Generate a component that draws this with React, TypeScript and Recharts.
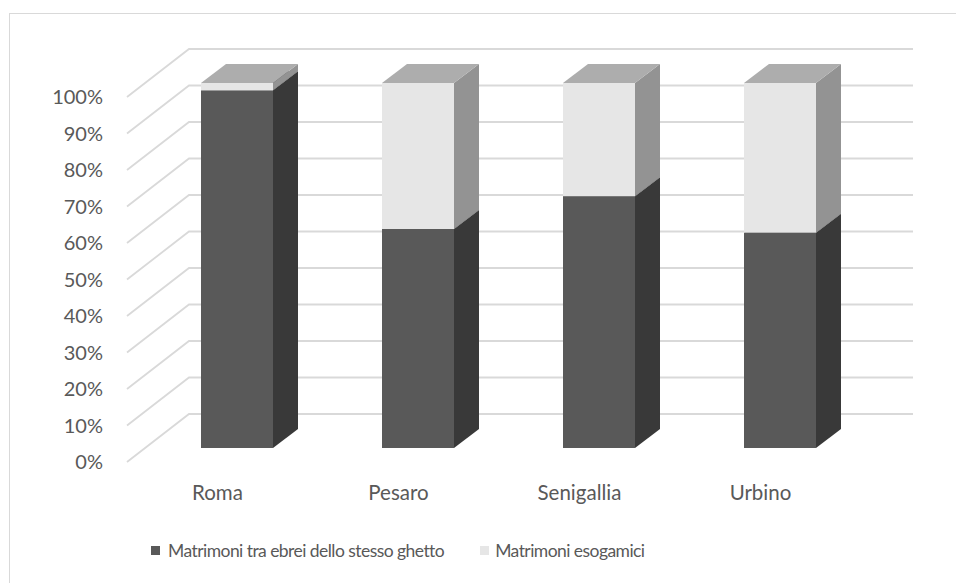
import React from "react";
import { BarChart, Bar, XAxis, YAxis, CartesianGrid, Legend } from "recharts";

const cities = ["Roma", "Pesaro", "Senigallia", "Urbino"];
const sameGhetto = [98, 60, 69, 59];
const exogamous = [2, 40, 31, 41];
const yTicks = [0, 10, 20, 30, 40, 50, 60, 70, 80, 90, 100];
const seriesNames = ["Matrimoni tra ebrei dello stesso ghetto", "Matrimoni esogamici"];

const data = cities.map((city, i) => ({ city, same: sameGhetto[i], exo: exogamous[i] }));

const FONT = "Lato, 'Open Sans', sans-serif";
const TEXT = "#595959";
const GRID = "#d9d9d9";

// fake 3D projection: back wall offset, bar position and depth
const WALL_DX = 62;
const WALL_DY = -48;
const BAR_SHIFT_X = 19;
const BAR_SHIFT_Y = -14;
const BAR_DX = 25;
const BAR_DY = -19;

const COLORS = {
  same: { front: "#595959", side: "#393939", top: "#4a4a4a" },
  exo: { front: "#e6e6e6", side: "#939393", top: "#adadad" },
};

const make3dShape = (c: { front: string; side: string; top: string }) => (props: any) => {
  const { x, y, width, height } = props;
  if (!height) return <g />;
  const fx = x + BAR_SHIFT_X;
  const fy = y + BAR_SHIFT_Y;
  const r = fx + width;
  const b = fy + height;
  return (
    <g>
      <rect x={fx} y={fy} width={width} height={height} fill={c.front} />
      <polygon
        points={`${r},${b} ${r},${fy} ${r + BAR_DX},${fy + BAR_DY} ${r + BAR_DX},${b + BAR_DY}`}
        fill={c.side}
      />
      <polygon
        points={`${fx},${fy} ${r},${fy} ${r + BAR_DX},${fy + BAR_DY} ${fx + BAR_DX},${fy + BAR_DY}`}
        fill={c.top}
      />
    </g>
  );
};

// gridline: diagonal on the side wall, then horizontal on the back wall
const gridLine = (p: any) => {
  const { x1, x2, y1 } = p;
  return (
    <path
      key={`grid-${y1}`}
      d={`M${x1},${y1} L${x1 + WALL_DX},${y1 + WALL_DY} L${x2 + WALL_DX},${y1 + WALL_DY}`}
      stroke={GRID}
      strokeWidth={1.8}
      fill="none"
    />
  );
};

const CityTick = ({ x, y, payload }: any) => (
  <text x={x} y={y + 31} dy="0.35em" textAnchor="middle" fill={TEXT} fontSize={20.5} fontFamily={FONT}>
    {payload.value}
  </text>
);

const LegendContent = () => (
  <div
    style={{
      display: "flex",
      alignItems: "center",
      height: 24,
      paddingLeft: 151,
      fontFamily: FONT,
      fontSize: 17.5,
      letterSpacing: -0.55,
      color: TEXT,
      whiteSpace: "nowrap",
    }}
  >
    <span style={{ width: 9, height: 9, background: COLORS.same.front, marginRight: 8 }} />
    <span style={{ marginRight: 36 }}>{seriesNames[0]}</span>
    <span style={{ width: 9, height: 9, background: COLORS.exo.front, marginRight: 6 }} />
    <span>{seriesNames[1]}</span>
  </div>
);

export default function App() {
  return (
    <div
      style={{
        position: "absolute",
        left: 0,
        top: 0,
        width: 956,
        height: 583,
        overflow: "hidden",
        background: "#fff",
      }}
    >
      <div
        style={{
          position: "absolute",
          left: 9,
          top: 13,
          width: 1100,
          height: 800,
          border: "1.5px solid #d9d9d9",
        }}
      />
      <div style={{ position: "absolute", left: 0, top: 0 }}>
        <BarChart
          width={956}
          height={583}
          data={data}
          margin={{ top: 97, right: 105, left: 47, bottom: 21 }}
          barSize={72}
        >
          <CartesianGrid vertical={false} horizontal={gridLine} />
          <XAxis
            dataKey="city"
            axisLine={false}
            tickLine={false}
            tickSize={0}
            tickMargin={0}
            height={76}
            interval={0}
            tick={<CityTick />}
          />
          <YAxis
            domain={[0, 100]}
            ticks={yTicks}
            tickFormatter={(v) => `${v}%`}
            axisLine={false}
            tickLine={false}
            tickSize={0}
            tickMargin={24}
            width={80}
            tick={{ fill: TEXT, fontSize: 20, fontFamily: FONT }}
          />
          <Legend verticalAlign="bottom" align="left" wrapperStyle={{ left: 0, width: 956 }} content={<LegendContent />} />
          <Bar
            dataKey="same"
            name={seriesNames[0]}
            stackId="a"
            fill={COLORS.same.front}
            shape={make3dShape(COLORS.same)}
            isAnimationActive={false}
          />
          <Bar
            dataKey="exo"
            name={seriesNames[1]}
            stackId="a"
            fill={COLORS.exo.front}
            shape={make3dShape(COLORS.exo)}
            isAnimationActive={false}
          />
        </BarChart>
      </div>
    </div>
  );
}
